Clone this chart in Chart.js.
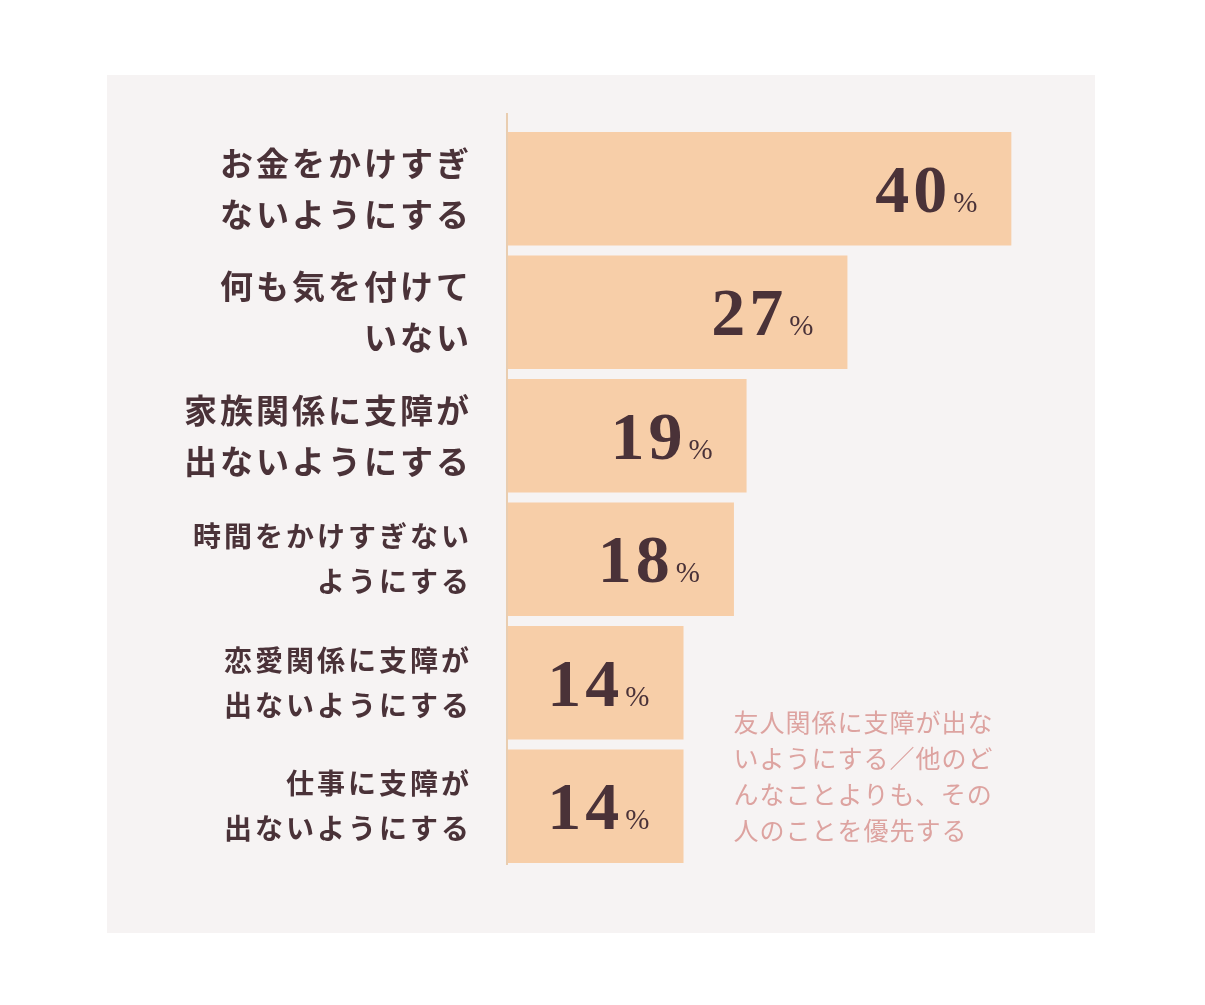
<!DOCTYPE html>
<html>
<head>
<meta charset="utf-8">
<script src="https://cdn.jsdelivr.net/npm/chart.js@4.4.0/dist/chart.umd.min.js"></script>
<style>
  body { margin: 0; background: #ffffff; }
  #panel { position: absolute; left: 107px; top: 75px; width: 988px; height: 858px; background: #f6f3f3; }
  #myChart { display: block; }
</style>
</head>
<body>
<div id="panel"><canvas id="myChart" width="988" height="858"></canvas></div>
<script>
const categories = [
    ['お金をかけすぎ', 'ないようにする'],
    ['何も気を付けて', 'いない'],
    ['家族関係に支障が', '出ないようにする'],
    ['時間をかけすぎない', 'ようにする'],
    ['恋愛関係に支障が', '出ないようにする'],
    ['仕事に支障が', '出ないようにする']
]
const values = [40, 27, 19, 18, 14, 14]
const noteLines = ['友人関係に支障が出な', 'いようにする／他のど', 'んなことよりも、その', '人のことを優先する']

const textColor = '#4a3238'
const barColor = '#f7cea8'
const jpFont = '"Noto Sans CJK JP", "Noto Sans", sans-serif'

// spacing for the japanese labels
const spacingPlugin = {
    id: 'spacing',
    beforeDraw: (chart) => { chart.ctx.letterSpacing = '3px' },
    beforeDatasetsDraw: (chart) => { chart.ctx.letterSpacing = '0px' }
}

const axisLine = {
    id: 'axisLine',
    afterDatasetsDraw: (chart) => {
        const ctx = chart.ctx
        const area = chart.chartArea
        ctx.save()
        ctx.strokeStyle = '#e9cdb0'
        ctx.lineWidth = 2
        ctx.beginPath()
        ctx.moveTo(area.left, area.top - 14)
        ctx.lineTo(area.left, area.bottom - 3)
        ctx.stroke()
        ctx.restore()
    }
}

const valueLabels = {
    id: 'valueLabels',
    afterDatasetsDraw: (chart) => {
        const ctx = chart.ctx
        const meta = chart.getDatasetMeta(0)
        ctx.save()
        ctx.fillStyle = textColor
        ctx.textBaseline = 'alphabetic'
        ctx.textAlign = 'left'
        meta.data.forEach((bar, i) => {
            ctx.letterSpacing = '0px'
            ctx.font = '29px "Liberation Serif", serif'
            const pctW = ctx.measureText('%').width
            ctx.letterSpacing = '4px'
            ctx.font = 'bold 68px "Liberation Serif", serif'
            const numW = ctx.measureText(String(values[i])).width
            const right = bar.x - 34
            const base = bar.y + 23
            ctx.fillText(String(values[i]), right - pctW - 2 - numW, base)
            ctx.letterSpacing = '0px'
            ctx.font = '29px "Liberation Serif", serif'
            ctx.fillText('%', right - pctW, base)
        })
        ctx.restore()
    }
}

const note = {
    id: 'note',
    afterDraw: (chart) => {
        const ctx = chart.ctx
        const meta = chart.getDatasetMeta(0)
        const x = chart.scales.x.getPixelForValue(values[5]) + 50
        const y0 = (meta.data[4].y + meta.data[5].y) / 2 - 22
        ctx.save()
        ctx.letterSpacing = '1px'
        ctx.fillStyle = '#dda3a0'
        ctx.font = '25px ' + jpFont
        ctx.textBaseline = 'middle'
        ctx.textAlign = 'left'
        noteLines.forEach((line, i) => ctx.fillText(line, x, y0 + i * 36))
        ctx.restore()
    }
}

const chart = new Chart(document.getElementById('myChart'), {
    type: 'bar',
    data: {
        labels: categories,
        datasets: [{
            data: values,
            backgroundColor: barColor,
            borderWidth: 0,
            barPercentage: 0.92,
            categoryPercentage: 1
        }]
    },
    options: {
        indexAxis: 'y',
        responsive: false,
        animation: false,
        devicePixelRatio: 1,
        layout: { padding: { left: 0, right: 8, top: 52, bottom: 65 } },
        plugins: { legend: { display: false }, tooltip: { enabled: false } },
        scales: {
            x: { display: false, min: 0, max: 46 },
            y: {
                afterFit: (scale) => {
                    scale.width = 400
                    scale.paddingTop = 0
                    scale.paddingBottom = 0
                },
                grid: { display: false },
                border: { display: false },
                ticks: {
                    padding: 27,
                    color: textColor,
                    font: (c) => c.index < 3
                        ? { family: jpFont, size: 33, weight: 'bold', lineHeight: 1.55 }
                        : { family: jpFont, size: 28, weight: 'bold', lineHeight: 1.6 }
                }
            }
        }
    },
    plugins: [spacingPlugin, axisLine, valueLabels, note]
})
</script>
</body>
</html>
